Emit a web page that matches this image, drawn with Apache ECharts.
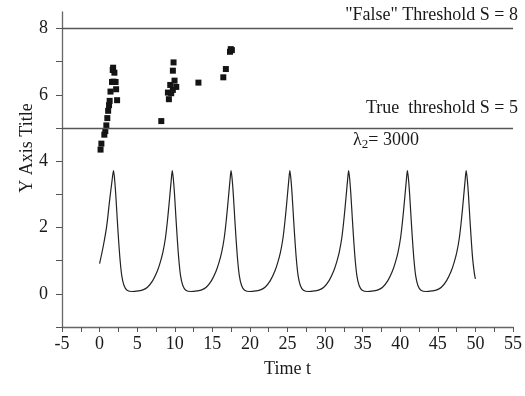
<!DOCTYPE html>
<html>
<head>
<meta charset="utf-8">
<script src="https://cdn.jsdelivr.net/npm/echarts@6/dist/echarts.min.js"></script>
<style>html,body{margin:0;padding:0;background:#fff}#c{width:525px;height:396px}</style>
</head>
<body>
<div id="c"></div>
<script>
var xTicks = [-5,-2.5,0,2.5,5,7.5,10,12.5,15,17.5,20,22.5,25,27.5,30,32.5,35,37.5,40,42.5,45,47.5,50,52.5,55];
var yTicks = [-1,0,1,2,3,4,5,6,7,8];
var yLabels = [0,2,4,6,8];
var thresholds = [8,5];

var curve = [
 [0,0.91],[0.5,1.45],[0.95,2.05],[1.35,2.85],[1.65,3.4],[1.85,3.72],
 [2.0,3.45],[2.15,3.0],[2.35,2.25],[2.55,1.55],[2.72,1.04],[2.95,0.55],[3.25,0.25],[3.65,0.11],[4.35,0.07],[5.15,0.09],
 [5.77,0.12],[6.37,0.2],[7.07,0.4],[7.67,0.68],[8.07,0.95],[8.42,1.25],[8.77,1.7],[9.07,2.3],[9.32,2.9],[9.52,3.4],[9.67,3.72],
 [9.82,3.45],[9.97,3.0],[10.17,2.25],[10.37,1.55],[10.54,1.04],[10.77,0.55],[11.07,0.25],[11.47,0.11],[12.17,0.07],[12.97,0.09],
 [13.59,0.12],[14.19,0.2],[14.89,0.4],[15.49,0.68],[15.89,0.95],[16.24,1.25],[16.59,1.7],[16.89,2.3],[17.14,2.9],[17.34,3.4],[17.49,3.72],
 [17.64,3.45],[17.79,3.0],[17.99,2.25],[18.19,1.55],[18.36,1.04],[18.59,0.55],[18.89,0.25],[19.29,0.11],[19.99,0.07],[20.79,0.09],
 [21.41,0.12],[22.01,0.2],[22.71,0.4],[23.31,0.68],[23.71,0.95],[24.06,1.25],[24.41,1.7],[24.71,2.3],[24.96,2.9],[25.16,3.4],[25.31,3.72],
 [25.46,3.45],[25.61,3.0],[25.81,2.25],[26.01,1.55],[26.18,1.04],[26.41,0.55],[26.71,0.25],[27.11,0.11],[27.81,0.07],[28.61,0.09],
 [29.23,0.12],[29.83,0.2],[30.53,0.4],[31.13,0.68],[31.53,0.95],[31.88,1.25],[32.23,1.7],[32.53,2.3],[32.78,2.9],[32.98,3.4],[33.13,3.72],
 [33.28,3.45],[33.43,3.0],[33.63,2.25],[33.83,1.55],[34.0,1.04],[34.23,0.55],[34.53,0.25],[34.93,0.11],[35.63,0.07],[36.43,0.09],
 [37.05,0.12],[37.65,0.2],[38.35,0.4],[38.95,0.68],[39.35,0.95],[39.7,1.25],[40.05,1.7],[40.35,2.3],[40.6,2.9],[40.8,3.4],[40.95,3.72],
 [41.1,3.45],[41.25,3.0],[41.45,2.25],[41.65,1.55],[41.82,1.04],[42.05,0.55],[42.35,0.25],[42.75,0.11],[43.45,0.07],[44.25,0.09],
 [44.87,0.12],[45.47,0.2],[46.17,0.4],[46.77,0.68],[47.17,0.95],[47.52,1.25],[47.87,1.7],[48.17,2.3],[48.42,2.9],[48.62,3.4],[48.77,3.72],
 [48.92,3.45],[49.07,3.0],[49.27,2.25],[49.47,1.55],[49.64,1.04],[49.87,0.6],[50.0,0.45]
];

var cluster1 = [[0.13,4.35],[0.24,4.53],[0.63,4.8],[0.76,4.91],[0.9,5.08],[1.03,5.3],[1.14,5.52],[1.26,5.69],[1.34,5.82],[2.33,5.84],[1.45,6.1],[2.2,6.17],[1.65,6.39],[2.13,6.39],[1.85,6.4],[1.97,6.67],[1.8,6.82],[1.75,6.75]];
var cluster2 = [[8.21,5.21],[9.22,5.87],[9.09,6.07],[9.53,6.05],[9.4,6.3],[9.75,6.15],[10.2,6.24],[9.97,6.43],[9.75,6.73],[9.84,6.98],[13.15,6.37],[16.46,6.53],[16.8,6.78],[17.35,7.3],[17.6,7.35],[17.45,7.38]];

var FONT = 'Liberation Serif';
var chart = echarts.init(document.getElementById('c'), null, {renderer:'canvas'});
chart.setOption({
  animation: false,
  backgroundColor: '#fff',
  grid: {left: 62, right: 10, top: 12, bottom: 69},
  xAxis: {
    type: 'value', min: -5, max: 55, interval: 5,
    name: 'Time t', nameLocation: 'middle', nameGap: 33,
    nameTextStyle: {fontFamily: FONT, fontSize: 18, color: '#1a1a1a'},
    axisLine: {show: true, onZero: false, lineStyle: {color: '#666', width: 1.3}},
    axisTick: {show: true, length: 5, customValues: xTicks, lineStyle: {color: '#555'}},
    axisLabel: {fontFamily: FONT, fontSize: 18, color: '#1a1a1a', margin: 8},
    splitLine: {show: false}
  },
  yAxis: {
    type: 'value', min: -1, max: 8.5, interval: 1,
    axisLine: {show: true, onZero: false, lineStyle: {color: '#666', width: 1.3}},
    axisTick: {show: true, length: 6, customValues: yTicks, lineStyle: {color: '#555'}},
    axisLabel: {fontFamily: FONT, fontSize: 18, color: '#1a1a1a', margin: 14, customValues: yLabels},
    splitLine: {show: false}
  },
  series: [
    {
      type: 'line', data: curve, smooth: 0.3, symbol: 'none',
      lineStyle: {color: '#222', width: 1.2},
      markLine: {
        silent: true, symbol: 'none', label: {show: false},
        lineStyle: {color: '#555', width: 1.3, type: 'solid'},
        data: thresholds.map(function(v){ return {yAxis: v}; })
      }
    },
    {type: 'scatter', data: cluster1, symbol: 'rect', symbolSize: 6, itemStyle: {color: '#141414', opacity: 1}},
    {type: 'scatter', data: cluster2, symbol: 'rect', symbolSize: 6, itemStyle: {color: '#141414', opacity: 1}}
  ],
  graphic: [
    {type: 'text', x: 27, y: 148, rotation: Math.PI/2,
     style: {text: 'Y Axis Title', font: '18px "Liberation Serif"', fill: '#1a1a1a', align: 'center', verticalAlign: 'middle'}},
    {type: 'text', x: 518, y: 15,
     style: {text: '"False" Threshold S = 8', font: '18px "Liberation Serif"', fill: '#1a1a1a', align: 'right', verticalAlign: 'middle'}},
    {type: 'text', x: 518, y: 108,
     style: {text: 'True  threshold S = 5', font: '18px "Liberation Serif"', fill: '#1a1a1a', align: 'right', verticalAlign: 'middle'}},
    {type: 'text', x: 353, y: 140,
     style: {text: '{a|λ}{s|2}{a|= 3000}', align: 'left', verticalAlign: 'middle', fill: '#1a1a1a',
       rich: {a: {fontFamily: FONT, fontSize: 18, fill: '#1a1a1a'}, s: {fontFamily: FONT, fontSize: 13, fill: '#1a1a1a', padding: [10,0,0,0]}}}}
  ]
});
</script>
</body>
</html>
